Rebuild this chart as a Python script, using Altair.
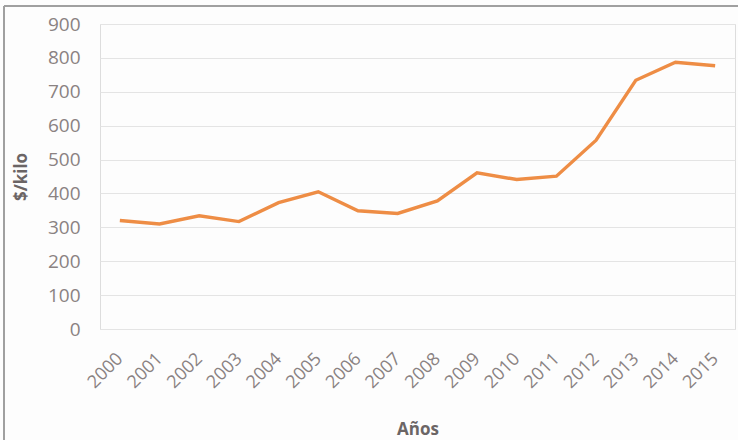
import altair as alt
import pandas as pd

years = [str(y) for y in range(2000, 2016)]
values = [320, 310, 334, 317, 373, 405, 349, 341, 378, 461, 441, 451, 557, 734, 787, 777]

df = pd.DataFrame({"Año": years, "Valor": values})

FONT = "Open Sans"
LABEL_COLOR = "#8a8282"
TITLE_COLOR = "#6b6565"

line = alt.Chart(df).mark_line(color="#EE8D45", strokeWidth=3.4, strokeJoin="miter").encode(
    x=alt.X("Año:N", sort=years,
            scale=alt.Scale(type="point", padding=0.5),
            axis=alt.Axis(title="Años", labelAngle=-45, labelAlign="right", labelBaseline="middle",
                          labelPadding=27, ticks=False, domain=False, grid=False,
                          labelFont=FONT, labelFontSize=18, labelColor=LABEL_COLOR,
                          titleFont=FONT, titleFontSize=17, titleFontWeight="bold",
                          titleColor=TITLE_COLOR, titlePadding=30)),
    y=alt.Y("Valor:Q", scale=alt.Scale(domain=[0, 900], nice=False),
            axis=alt.Axis(title="$/kilo", values=list(range(0, 1000, 100)), ticks=False, domain=False,
                          gridColor="#e4e4e4", gridWidth=1.2,
                          labelFont=FONT, labelFontSize=19, labelColor=LABEL_COLOR, labelPadding=20,
                          titleFont=FONT, titleFontSize=17, titleFontWeight="bold",
                          titleColor=TITLE_COLOR, titlePadding=17)),
)

border_left = alt.Chart(df).mark_rule(color="#a0a0a0", strokeWidth=1.5).encode(
    x=alt.value(-96), y=alt.value(-18), y2=alt.value(420)
)
border_top = alt.Chart(df).mark_rule(color="#a0a0a0", strokeWidth=1.5).encode(
    x=alt.value(-96), x2=alt.value(640), y=alt.value(-18)
)

chart = alt.layer(line, border_left, border_top).properties(
    width=635, height=305,
    autosize=alt.AutoSizeParams(type="none"),
    padding={"left": 100, "top": 24, "right": 3, "bottom": 111},
).configure_view(stroke=None).configure(background="#fdfdfd")

chart.save("out.html", embed_options={"renderer": "svg", "actions": False})
